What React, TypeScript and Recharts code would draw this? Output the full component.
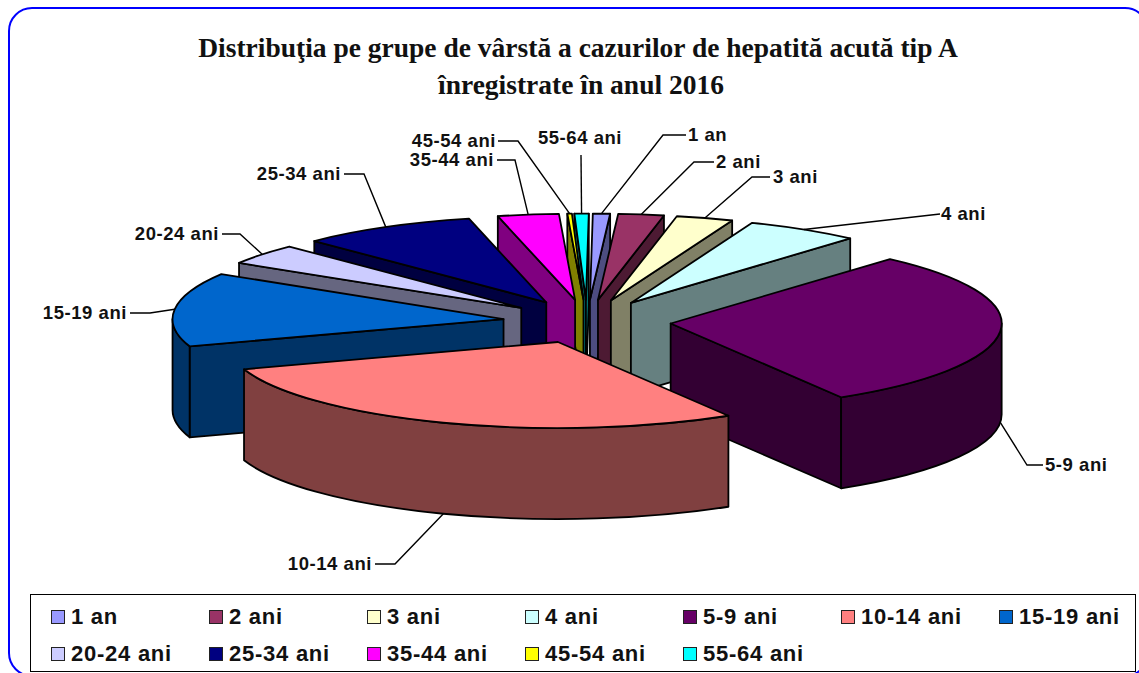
import React from "react";
import { PieChart, Pie, Legend } from "recharts";

const AGE_GROUPS = ["1 an", "2 ani", "3 ani", "4 ani", "5-9 ani", "10-14 ani", "15-19 ani", "20-24 ani", "25-34 ani", "35-44 ani", "45-54 ani", "55-64 ani"];
const SHARES = [3, 8, 10, 20, 107.5, 102.5, 50, 14, 31, 10.7, 0.8, 2.5];
const TOP_COLORS = ["#9999FF", "#993366", "#FFFFCC", "#CCFFFF", "#660066", "#FF8080", "#0066CC", "#CCCCFF", "#000080", "#FF00FF", "#FFFF00", "#00FFFF"];
const WALL_COLORS = ["#4D4D80", "#4D1A33", "#808066", "#668080", "#330033", "#804040", "#003366", "#666680", "#000040", "#800080", "#808000", "#008080"];
const DRAW_ORDER = [11, 10, 9, 0, 1, 2, 3, 8, 7, 6, 4, 5];

// leader elbow and end points, then text anchor, for each age group
const LABEL_LAYOUT: { elbow?: [number, number]; end: [number, number]; anchor: "start" | "end" | "middle"; text: [number, number] }[] = [
  { elbow: [663, 135], end: [686, 135], anchor: "start", text: [688, 134] },
  { elbow: [694, 162], end: [714, 162], anchor: "start", text: [716, 161] },
  { elbow: [752, 177], end: [770, 177], anchor: "start", text: [773, 176] },
  { end: [940, 214], anchor: "start", text: [941, 213] },
  { elbow: [1027, 465], end: [1043, 465], anchor: "start", text: [1045, 464] },
  { elbow: [395, 564], end: [375, 564], anchor: "end", text: [372, 563] },
  { elbow: [150, 313], end: [130, 313], anchor: "end", text: [127, 312] },
  { elbow: [240, 234], end: [222, 234], anchor: "end", text: [219, 233] },
  { elbow: [364, 174], end: [344, 174], anchor: "end", text: [341, 173] },
  { elbow: [515, 160], end: [497, 160], anchor: "end", text: [494, 159] },
  { elbow: [518, 141], end: [498, 141], anchor: "end", text: [496, 140] },
  { end: [581, 155], anchor: "middle", text: [580, 137] },
];

const rows = AGE_GROUPS.map((name, i) => ({ name, value: SHARES[i], fill: TOP_COLORS[i] }));

const TILT = 0.26;
const DEPTH = 91;
const EXPLODE = 84;
const RAD = Math.PI / 180;
const ARIAL = "'Liberation Sans', Arial, sans-serif";
const SERIF = "'Liberation Serif', 'Times New Roman', serif";

function geometry(cx: number, cy: number, r: number, startAngle: number, endAngle: number) {
  const a0 = 90 - startAngle;
  const a1 = 90 - endAngle;
  const mid = (a0 + a1) / 2;
  const ax = cx + EXPLODE * Math.sin(mid * RAD);
  const ay = cy - EXPLODE * TILT * Math.cos(mid * RAD);
  const pt = (t: number, dy = 0): [number, number] => [ax + r * Math.sin(t * RAD), ay - r * TILT * Math.cos(t * RAD) + dy];
  return { a0, a1, mid, ax, ay, pt };
}

function Slice3D(props: any) {
  const { cx, cy, outerRadius: r, startAngle, endAngle, fill, index } = props;
  const { a0, a1, ax, ay, pt } = geometry(cx, cy, r, startAngle, endAngle);
  const wall = WALL_COLORS[index];
  const ry = r * TILT;
  const common = { stroke: "#000", strokeWidth: 1.8, strokeLinejoin: "round" as const };
  const face = (t: number) => {
    const p = pt(t);
    return `M${ax},${ay} L${p[0]},${p[1]} L${p[0]},${p[1] + DEPTH} L${ax},${ay + DEPTH} Z`;
  };
  const s = Math.max(a0, 90);
  const e = Math.min(a1, 270);
  let wallPath = "";
  if (e > s) {
    const p = pt(s);
    const q = pt(e);
    wallPath = `M${p[0]},${p[1]} A${r},${ry} 0 0 1 ${q[0]},${q[1]} L${q[0]},${q[1] + DEPTH} A${r},${ry} 0 0 0 ${p[0]},${p[1] + DEPTH} Z`;
  }
  const p0 = pt(a0);
  const p1 = pt(a1);
  const top = `M${ax},${ay} L${p0[0]},${p0[1]} A${r},${ry} 0 ${a1 - a0 > 180 ? 1 : 0} 1 ${p1[0]},${p1[1]} Z`;
  return (
    <g>
      {Math.sin(a0 * RAD) < 0 && <path d={face(a0)} fill={wall} {...common} />}
      {Math.sin(a1 * RAD) > 0 && <path d={face(a1)} fill={wall} {...common} />}
      {wallPath && <path d={wallPath} fill={wall} {...common} />}
      <path d={top} fill={fill} {...common} />
    </g>
  );
}

function SliceLabel(props: any) {
  const { cx, cy, outerRadius: r, startAngle, endAngle, index } = props;
  const { mid, pt } = geometry(cx, cy, r, startAngle, endAngle);
  const front = mid > 90 && mid < 270;
  const p = pt(mid, front ? DEPTH : 0);
  const l = LABEL_LAYOUT[index];
  const pts = [p, ...(l.elbow ? [l.elbow] : []), l.end].map((q) => q.join(",")).join(" ");
  return (
    <g>
      <polyline points={pts} fill="none" stroke="#000" strokeWidth={1.4} />
      <text x={l.text[0]} y={l.text[1]} textAnchor={l.anchor} dominantBaseline="central" fontFamily={ARIAL} fontWeight="bold" fontSize={18.5} letterSpacing={0.55} fill="#111">
        {AGE_GROUPS[index]}
      </text>
    </g>
  );
}

function LegendBox() {
  return (
    <div style={{ position: "relative", width: 1106, height: 78, boxSizing: "border-box", border: "1.5px solid #000", background: "#fff" }}>
      {AGE_GROUPS.map((name, i) => {
        const col = i % 7;
        const row = Math.floor(i / 7);
        return (
          <div key={name} style={{ position: "absolute", left: 20 + col * 158, top: 9 + row * 37, height: 26, display: "flex", alignItems: "center", fontFamily: ARIAL, fontWeight: "bold", fontSize: 22, letterSpacing: 0.75, color: "#111", whiteSpace: "nowrap" }}>
            <span style={{ width: 14, height: 14, boxSizing: "border-box", border: "1.5px solid #222", background: TOP_COLORS[i], marginRight: 6, display: "inline-block" }} />
            {name}
          </div>
        );
      })}
    </div>
  );
}

export default function App() {
  return (
    <div style={{ position: "absolute", left: 0, top: 0, width: 1139, height: 673, overflow: "hidden", background: "#fff" }}>
      <div style={{ position: "absolute", left: 8, top: 7, width: 1141, height: 670, boxSizing: "border-box", border: "2px solid #0000FF", borderRadius: 24 }} />
      <div style={{ position: "absolute", left: 0, top: 0 }}>
        <PieChart width={1139} height={673} margin={{ top: 0, right: 0, bottom: 0, left: 0 }}>
          <text x={578} y={47} textAnchor="middle" dominantBaseline="central" fontFamily={SERIF} fontWeight="bold" fontSize={27.5} fill="#111">
            Distribuţia pe grupe de vârstă a cazurilor de hepatită acută tip A
          </text>
          <text x={581} y={84} textAnchor="middle" dominantBaseline="central" fontFamily={SERIF} fontWeight="bold" fontSize={27.5} fill="#111">
            înregistrate în anul 2016
          </text>
          {DRAW_ORDER.map((idx, n) => (
            <Pie
              key={idx}
              data={rows}
              dataKey="value"
              nameKey="name"
              cx={587}
              cy={321.5}
              innerRadius={0}
              outerRadius={331}
              startAngle={89.5}
              endAngle={-270.5}
              paddingAngle={0}
              stroke="none"
              isAnimationActive={false}
              legendType="none"
              labelLine={false}
              label={n === DRAW_ORDER.length - 1 ? (p: any) => <SliceLabel {...p} /> : false}
              shape={(p: any) => (p.index === idx ? <Slice3D {...p} /> : <g />)}
            />
          ))}
          <Legend content={() => <LegendBox />} wrapperStyle={{ position: "absolute", left: 30, top: 594, width: 1106, height: 78 }} />
        </PieChart>
      </div>
    </div>
  );
}
